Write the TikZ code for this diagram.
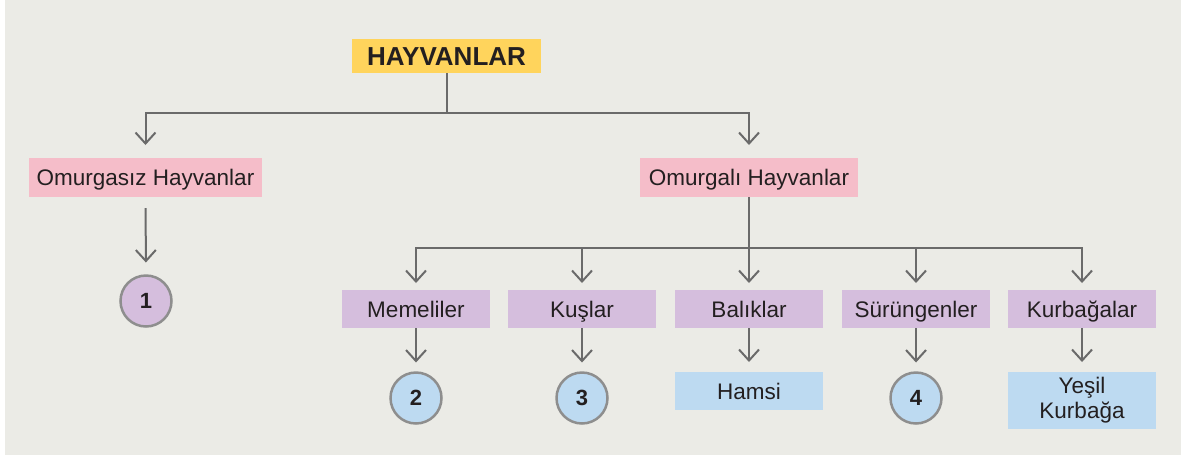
\documentclass[tikz,border=0pt]{standalone}
\usepackage{fontspec}
\setmainfont{Liberation Sans}
\usetikzlibrary{arrows.meta}
\definecolor{bgc}{HTML}{EBEBE6}
\definecolor{yel}{HTML}{FFD45C}
\definecolor{pnk}{HTML}{F5BDC9}
\definecolor{prp}{HTML}{D5BEDD}
\definecolor{blu}{HTML}{BDDAF1}
\definecolor{lin}{HTML}{6A6A6A}
\definecolor{cbd}{HTML}{8E8E8E}
\definecolor{txt}{HTML}{231F20}
\tikzset{
  box/.style={inner sep=0pt, outer sep=0pt, minimum width=148pt, minimum height=38pt, text=txt, font=\fontsize{22.5}{25}\selectfont, align=center, text height=16pt, text depth=0pt},
  num/.style={circle, draw=cbd, line width=2.5pt, inner sep=0pt, outer sep=0pt, minimum size=51pt, text=txt, font=\fontsize{22}{24}\selectfont\bfseries},
  ln/.style={draw=lin, line width=2pt},
  arr/.style={ln, -{Straight Barb[length=11pt,width=20pt]}},
}
\begin{document}
\begin{tikzpicture}[x=1pt,y=-1pt]
\useasboundingbox (0,0) rectangle (1185,459);
\fill[bgc] (5,0) rectangle (1181,455);
% nodes
\node[box, fill=yel, minimum width=189pt, minimum height=34pt, font=\fontsize{26}{28}\selectfont\bfseries, text height=19pt, text depth=0pt] (top) at (446.5,56) {HAYVANLAR};
\node[box, fill=pnk, minimum width=233pt, minimum height=39pt] (omz) at (145.5,177.5) {Omurgasız Hayvanlar};
\node[box, fill=pnk, minimum width=218pt, minimum height=39pt] (omg) at (749,177.5) {Omurgalı Hayvanlar};
\node[num, fill=prp] (c1) at (146,301) {1};
\node[box, fill=prp] (p1) at (416,309) {Memeliler};
\node[box, fill=prp] (p2) at (582,309) {Kuşlar};
\node[box, fill=prp] (p3) at (749,309) {Balıklar};
\node[box, fill=prp] (p4) at (916,309) {Sürüngenler};
\node[box, fill=prp] (p5) at (1082,309) {Kurbağalar};
\node[num, fill=blu] (c2) at (416,398) {2};
\node[num, fill=blu] (c3) at (582,398) {3};
\node[box, fill=blu] (h) at (749,391) {Hamsi};
\node[num, fill=blu] (c4) at (916,398) {4};
\node[box, fill=blu, minimum height=57pt, text height=, text depth=] (y) at (1082,400.5) {Yeşil\\Kurbağa};
% connectors
\coordinate (j1) at (446.5,113);
\coordinate (j2) at (749,248);
\draw[ln] (top.south) -- (j1);
\draw[arr, shorten >=13pt] (j1) -| (omz.north);
\draw[arr, shorten >=13pt] (j1) -| (omg.north);
\draw[arr, shorten <=11pt, shorten >=13pt] (omz.south) -- (c1.north);
\draw[ln] (omg.south) -- (j2);
\foreach \p in {p1,p2,p3,p4,p5}{
  \draw[arr, shorten >=7pt] (j2) -| (\p.north);
}
\draw[arr, shorten >=10pt] (p1.south) -- (c2.north);
\draw[arr, shorten >=10pt] (p2.south) -- (c3.north);
\draw[arr, shorten >=10pt] (p3.south) -- (h.north);
\draw[arr, shorten >=10pt] (p4.south) -- (c4.north);
\draw[arr, shorten >=10pt] (p5.south) -- (y.north);
\end{tikzpicture}
\end{document}
